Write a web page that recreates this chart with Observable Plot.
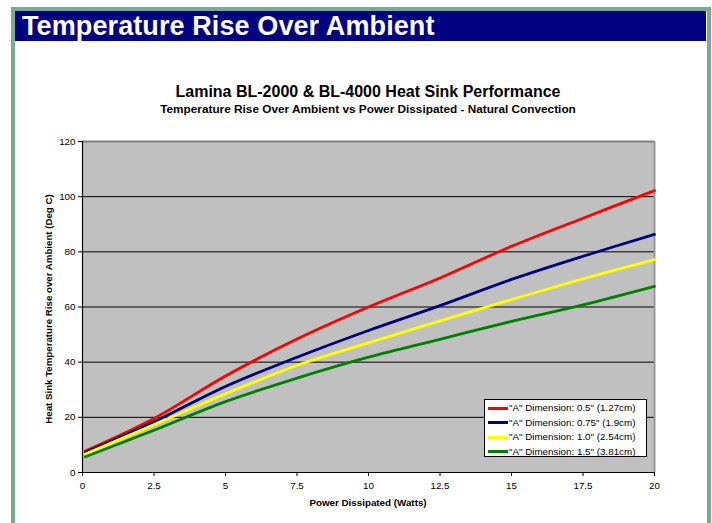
<!DOCTYPE html>
<html>
<head>
<meta charset="utf-8">
<script src="https://cdn.jsdelivr.net/npm/d3@7"></script>
<script src="https://cdn.jsdelivr.net/npm/@observablehq/plot@0.6"></script>
<style>
  html, body { margin: 0; padding: 0; background: #fff; }
  body { width: 712px; height: 523px; position: relative; overflow: hidden; font-family: "Liberation Sans", Arial, sans-serif; }
  .frameTop { position: absolute; left: 11px; top: 7px; width: 700px; height: 4px; background: #74AC96; }
  .frameL { position: absolute; left: 11px; top: 7px; width: 4px; height: 516px; background: #74AC96; }
  .frameR { position: absolute; left: 707px; top: 7px; width: 4px; height: 516px; background: #74AC96; }
  .header { position: absolute; left: 15px; top: 11px; width: 691px; height: 30px; background: #000080; }
  .header span { position: absolute; left: 7px; top: 0px; color: #fff; font-weight: bold; font-size: 27px; line-height: 30px; white-space: nowrap; letter-spacing: 0.1px; }
  .t1 { position: absolute; left: 0; width: 736px; top: 83px; text-align: center; font-weight: bold; font-size: 16px; color: #000; white-space: nowrap; }
  .t2 { position: absolute; left: 0; width: 736px; top: 102px; text-align: center; font-weight: bold; font-size: 11.8px; color: #000; white-space: nowrap; }
  .xt { position: absolute; left: 0; width: 736px; top: 497px; text-align: center; font-weight: bold; font-size: 9.8px; color: #000; white-space: nowrap; }
  .yt { position: absolute; left: 48px; top: 309px; width: 0; height: 0; }
  .yt span { position: absolute; transform: translate(-50%, -50%) rotate(-90deg); font-weight: bold; font-size: 9.7px; white-space: nowrap; color: #000; }
  #chart { position: absolute; left: 0; top: 0; }
  .legend { position: absolute; left: 484px; top: 399px; width: 163px; height: 58px; background: #fff; border: 1px solid #000; box-sizing: border-box; font-size: 9.8px; color: #000; padding-top: 1px; }
  .legend div { height: 14.5px; line-height: 14.5px; display: flex; align-items: center; white-space: nowrap; }
  .legend i { display: inline-block; width: 20px; height: 3px; margin-left: 3px; margin-right: 1px; }
</style>
</head>
<body>
<div class="frameTop"></div>
<div class="frameL"></div>
<div class="frameR"></div>
<div class="header"><span id="pageTitle"></span></div>
<div class="t1" id="t1"></div>
<div class="t2" id="t2"></div>
<div id="chart"></div>
<div class="yt"><span id="ytitle"></span></div>
<div class="xt" id="xtitle"></div>
<div class="legend" id="legend"></div>
<script>
const pageTitle = "Temperature Rise Over Ambient";
const chartTitle = "Lamina BL-2000 & BL-4000 Heat Sink Performance";
const chartSubtitle = "Temperature Rise Over Ambient vs Power Dissipated - Natural Convection";
const xTitle = "Power Dissipated (Watts)";
const yTitle = "Heat Sink Temperature Rise over Ambient (Deg C)";

const seriesNames = [
  "\"A\" Dimension: 0.5\" (1.27cm)",
  "\"A\" Dimension: 0.75\" (1.9cm)",
  "\"A\" Dimension: 1.0\" (2.54cm)",
  "\"A\" Dimension: 1.5\" (3.81cm)"
];
const seriesColors = ["#FF0000", "#000080", "#FFFF00", "#008000"];

const power = [0.1, 2.5, 5, 7.5, 10, 12.5, 15, 17.5, 20];
const rise05 = [7.8, 19.6, 35.0, 48.4, 60.0, 70.5, 82.0, 92.2, 102.2];
const rise075 = [7.3, 18.4, 31.2, 41.8, 51.5, 60.5, 70.0, 78.4, 86.3];
const rise10 = [6.7, 17.3, 28.5, 38.8, 47.0, 55.0, 62.7, 70.2, 77.2];
const rise15 = [5.7, 15.3, 25.7, 34.2, 41.8, 48.3, 54.8, 60.8, 67.5];

const xTicks = [0, 2.5, 5, 7.5, 10, 12.5, 15, 17.5, 20];
const yTicks = [0, 20, 40, 60, 80, 100, 120];

document.getElementById("pageTitle").textContent = pageTitle;
document.getElementById("t1").textContent = chartTitle;
document.getElementById("t2").textContent = chartSubtitle;
document.getElementById("xtitle").textContent = xTitle;
document.getElementById("ytitle").textContent = yTitle;

const allSeries = [rise05, rise075, rise10, rise15];
const rows = [];
allSeries.forEach((vals, si) => {
  vals.forEach((v, i) => rows.push({ series: seriesNames[si], x: power[i], y: v }));
});

const plot = Plot.plot({
  width: 712,
  height: 523,
  marginLeft: 82,
  marginRight: 58,
  marginTop: 141,
  marginBottom: 51,
  style: { fontFamily: "'Liberation Sans', Arial, sans-serif", fontSize: "9.8px", color: "#000", background: "transparent" },
  x: { domain: [0, 20] },
  y: { domain: [0, 120] },
  color: { domain: seriesNames, range: seriesColors },
  marks: [
    Plot.frame({ fill: "#C0C0C0", stroke: null }),
    Plot.ruleY(yTicks.filter(d => d > 0 && d < 120), { stroke: "#000", strokeWidth: 1 }),
    Plot.ruleY([120], { stroke: "#808080", strokeWidth: 2 }),
    Plot.ruleX([20], { stroke: "#9a9a9a", strokeWidth: 2 }),
    Plot.line(rows, { x: "x", y: "y", z: "series", stroke: "series", strokeWidth: 2.8, curve: "catmull-rom" }),
    Plot.ruleX([0], { stroke: "#000", strokeWidth: 1.2 }),
    Plot.ruleY([0], { stroke: "#000", strokeWidth: 1.2 }),
    Plot.axisY({ ticks: yTicks, tickSize: 4, tickPadding: 3, label: null, tickFormat: d => String(d) }),
    Plot.axisX({ ticks: xTicks, tickSize: 4, tickPadding: 6, label: null, tickFormat: d => String(d) })
  ]
});
document.getElementById("chart").appendChild(plot);

const legend = document.getElementById("legend");
seriesNames.forEach((name, i) => {
  const row = document.createElement("div");
  const sw = document.createElement("i");
  sw.style.background = seriesColors[i];
  row.appendChild(sw);
  row.appendChild(document.createTextNode(name));
  legend.appendChild(row);
});
</script>
</body>
</html>
